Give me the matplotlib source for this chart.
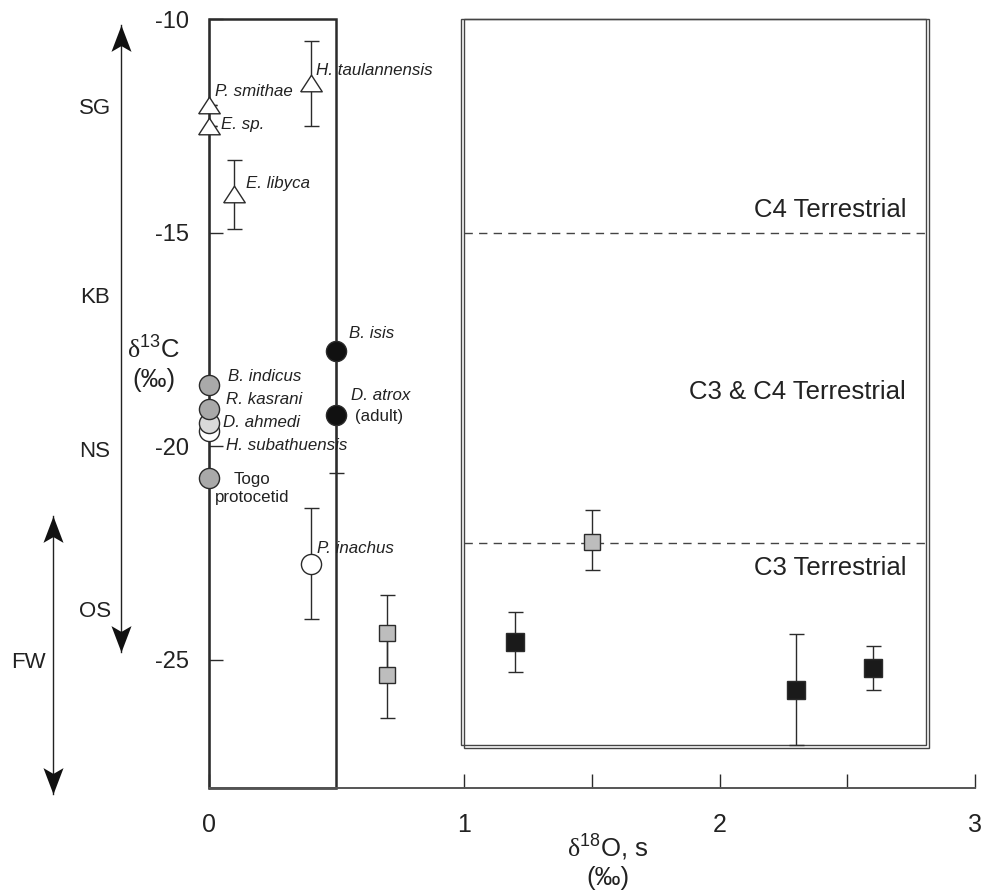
import matplotlib
matplotlib.use('Agg')
import matplotlib.pyplot as plt
from matplotlib.patches import Rectangle

plt.rcParams['font.family'] = ['Liberation Sans', 'DejaVu Sans']
plt.rcParams['mathtext.fontset'] = 'custom'
plt.rcParams['mathtext.rm'] = 'Liberation Serif'
plt.rcParams['mathtext.sf'] = 'Liberation Sans'

INK = '#2b2b2b'

# open triangles
tri_names = ['P. smithae', 'E. sp.', 'E. libyca', 'H. taulannensis']
tri_x = [0.0, 0.0, 0.1, 0.4]
tri_y = [-12.0, -12.5, -14.1, -11.5]
tri_err = [0.0, 0.0, 0.8, 1.0]
tri_offsets = [(4.7, 9.6), (9, 1.2), (8.4, 7.7), (4, 9.4)]

# circles
circ_names = ['B. indicus', 'R. kasrani', 'D. ahmedi', 'H. subathuensis',
              'Togo\nprotocetid', 'B. isis', 'D. atrox', 'P. inachus']
circ_x = [0.0, 0.0, 0.0, 0.0, 0.0, 0.5, 0.5, 0.4]
circ_y = [-18.57, -19.13, -19.45, -19.65, -20.74, -17.78, -19.26, -22.75]
circ_err = [0, 0, 0, 0, 0, 0, 1.37, 1.3]
circ_fill = ['#a9a9a9', '#a9a9a9', '#d9d9d9', 'white', '#a9a9a9',
             '#111111', '#111111', 'white']
circ_italic = [True, True, True, True, False, True, True, True]
circ_offsets = [(13.8, 6.5), (12.6, 6.7), (10.2, 0), (12.6, -10.3),
                (31.3, -7.5), (8.9, 12.7), (31.7, 13.7), (4.3, 10.8)]

# squares
sq_x = [0.7, 0.7, 1.5, 1.2, 2.3, 2.6]
sq_y = [-24.37, -25.37, -22.25, -24.58, -25.70, -25.2]
sq_err_lo = [0.88, 1.0, 0.64, 0.71, 1.30, 0.5]
sq_err_hi = [0.88, 1.0, 0.76, 0.70, 1.31, 0.51]
sq_fill = ['#bdbdbd', '#bdbdbd', '#bdbdbd', '#1a1a1a', '#1a1a1a', '#1a1a1a']
sq_size = [12, 12, 12, 13.5, 13.5, 13.5]

# diet boundaries
bound_y = [-15.0, -22.27]
zone_names = ['C4 Terrestrial', 'C3 & C4 Terrestrial', 'C3 Terrestrial']
zone_y = [-14.46, -18.72, -22.85]

# habitat arrows on the left
hab_names = ['SG', 'KB', 'NS', 'OS']
hab_y = [-12.08, -16.52, -20.12, -23.86]

fig = plt.figure(figsize=(9.84, 8.91), dpi=100)
ax = fig.add_axes([0.2119, 0.1159, 0.779, 0.8624])
ax.set_xlim(0, 3)
ax.set_ylim(-28, -10)

for s in ['top', 'right']:
    ax.spines[s].set_visible(False)
ax.spines['left'].set_color(INK)
ax.spines['left'].set_linewidth(1.0)
ax.spines['bottom'].set_color('#555555')
ax.spines['bottom'].set_linewidth(1.4)

ax.set_yticks([-10, -15, -20, -25])
ax.set_yticklabels(['-10', '-15', '-20', '-25'])
ax.set_xticks([0, 1, 2, 3])
ax.set_xticks([1.5, 2.5], minor=True)
ax.tick_params(axis='both', which='both', direction='in', length=10,
               width=1.0, color=INK, labelcolor='#222222')
ax.tick_params(axis='x', pad=18, labelsize=18)
ax.tick_params(axis='y', pad=14, labelsize=17)

# left box (0 to 0.5) and double-lined right box
ax.add_patch(Rectangle((0, -28), 0.5, 18, fill=False, ec=INK, lw=1.8,
                       clip_on=False, zorder=1))
ax.add_patch(Rectangle((0.99, -27.0), 1.82, 17.0, fill=False, ec='#444444',
                       lw=1.0, clip_on=False, zorder=1))
ax.add_patch(Rectangle((0.998, -27.07), 1.82, 17.07, fill=False, ec='#444444',
                       lw=1.0, clip_on=False, zorder=1))

for by in bound_y:
    ax.plot([1.0, 2.81], [by, by], ls=(0, (6, 4.5)), color='#444444', lw=1.0,
            zorder=1)
for name, zy in zip(zone_names, zone_y):
    ax.text(2.73, zy, name, ha='right', va='center', fontsize=18.5,
            color='#222222')

# error bars
ax.errorbar(tri_x, tri_y, yerr=tri_err, fmt='none', ecolor=INK, elinewidth=1,
            capsize=5.4, capthick=1, zorder=2)
ax.errorbar(circ_x, circ_y, yerr=circ_err, fmt='none', ecolor=INK,
            elinewidth=1, capsize=5.4, capthick=1, zorder=2)
ax.errorbar(sq_x, sq_y, yerr=[sq_err_lo, sq_err_hi], fmt='none', ecolor=INK,
            elinewidth=1, capsize=5.4, capthick=1, zorder=2)

# markers
tri_marker = [(-1, -0.77), (1, -0.77), (0, 0.77), (-1, -0.77)]
ax.plot(tri_x, tri_y, ls='none', marker=tri_marker, ms=15.5, mfc='white',
        mec=INK, mew=1.0, zorder=3, clip_on=False)
for i in range(len(circ_x) - 1, -1, -1):
    ax.plot(circ_x[i], circ_y[i], ls='none', marker='o', ms=14.5,
            mfc=circ_fill[i], mec=INK, mew=1.0, zorder=3 + (len(circ_x) - i) * 0.01,
            clip_on=False)
for i in range(len(sq_x)):
    ax.plot(sq_x[i], sq_y[i], ls='none', marker='s', ms=sq_size[i],
            mfc=sq_fill[i], mec=INK, mew=1.0, zorder=3)

# taxon labels
for name, x, y, off in zip(tri_names, tri_x, tri_y, tri_offsets):
    ax.annotate(name, (x, y), xytext=off, textcoords='offset points',
                ha='left', va='center', fontsize=12.2, style='italic',
                color='#222222')
for name, x, y, off, it in zip(circ_names, circ_x, circ_y, circ_offsets,
                               circ_italic):
    ha = 'left'
    if name.startswith('Togo') or name == 'D. atrox':
        ha = 'center'
    ax.annotate(name, (x, y), xytext=off, textcoords='offset points',
                ha=ha, va='center', fontsize=12.2,
                style='italic' if it else 'normal', color='#222222',
                linespacing=1.25)
ax.annotate('(adult)', (circ_x[6], circ_y[6]), xytext=(30.5, -1.2),
            textcoords='offset points', ha='center', va='center',
            fontsize=12.2, color='#222222')

# habitat arrows (notched heads) and labels at left
up_head = [(0, 0), (-0.38, -1), (0, -0.78), (0.38, -1), (0, 0)]
down_head = [(x, -y) for x, y in up_head]
for ax_x, y_top, y_bot in [(-0.342, -10.13, -24.83), (-0.607, -21.64, -28.15)]:
    ax.plot([ax_x, ax_x], [y_top, y_bot], color='#222222', lw=1.0,
            clip_on=False)
    ax.plot(ax_x, y_top, marker=up_head, ms=38, color='#111111', mew=0,
            clip_on=False)
    ax.plot(ax_x, y_bot, marker=down_head, ms=38, color='#111111', mew=0,
            clip_on=False)
for name, hy in zip(hab_names, hab_y):
    ax.text(-0.444, hy, name, ha='center', va='center', fontsize=16,
            color='#222222', clip_on=False)
ax.text(-0.706, -25.06, 'FW', ha='center', va='center', fontsize=16,
        color='#222222', clip_on=False)

# axis labels
ax.text(-0.215, -17.72, r'$\mathrm{\delta}^{\mathsf{13}}$C', ha='center',
        va='center', fontsize=18.5, color='#222222', clip_on=False)
ax.text(-0.215, -18.46, '(‰)', ha='center', va='center', fontsize=18.5,
        color='#222222', clip_on=False)
fig.text(0.6179, 0.0497, r'$\mathrm{\delta}^{\mathsf{18}}$O, s', ha='center',
         va='center', fontsize=18.5, color='#222222')
fig.text(0.6179, 0.0146, '(‰)', ha='center', va='center', fontsize=18.5,
         color='#222222')

fig.savefig('out.png', dpi=100, facecolor='white')
